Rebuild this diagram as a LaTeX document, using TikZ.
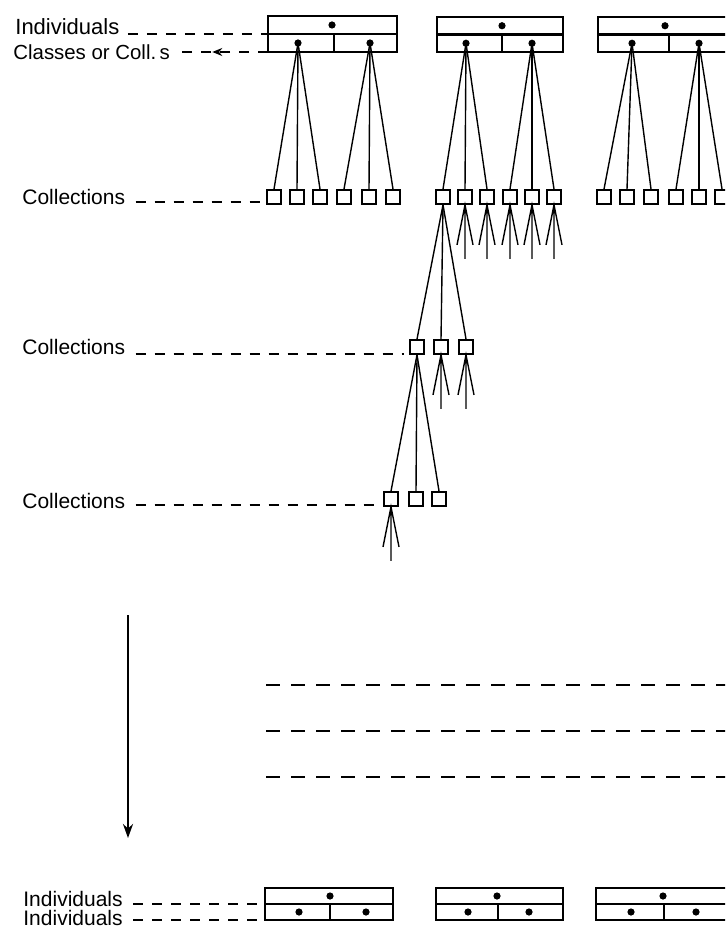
\documentclass[tikz,border=0pt]{standalone}
\usepackage{fontspec}
\setmainfont{Liberation Sans}
\usetikzlibrary{arrows.meta,decorations.markings}
\tikzset{
  frame/.style={line width=1.3pt},
  sq/.style={draw, line width=1.1pt, rectangle, minimum size=6.8pt, inner sep=0pt},
  fan/.style={line width=0.7pt},
  lead/.style={line width=0.9pt, dash pattern=on 5pt off 4.5pt},
  midlead/.style={line width=1pt, dash pattern=on 7pt off 5.5pt},
  dotf/.style={circle, fill, inner sep=0pt, minimum size=3.6pt},
  lbl/.style={anchor=base west, inner sep=0pt, font=\fontsize{10.5}{12}\selectfont},
}
\newcommand\tribox[9]{%
  \draw[frame] (#2,#4) rectangle (#3,#5);
  \coordinate (#1-m) at (#2,{(#4+#5)/2});
  \coordinate (#1-r) at (#3,{(#4+#5)/2});
  \coordinate (#1-bl) at (#2,#5);
  \draw[frame] (#1-m) -- (#1-r);
  \draw[frame] (#6,{(#4+#5)/2}) -- (#6,#5);
  \node[dotf] (#1-t) at (#7,{#4+0.25*(#5-#4)}) {};
  \node[dotf] (#1-a) at (#8,{#4+0.75*(#5-#4)}) {};
  \node[dotf] (#1-b) at (#9,{#4+0.75*(#5-#4)}) {};
}
\newcommand\minifan[1]{%
  \path (#1.south) ++(-8,40) coordinate (#1-fl)
        (#1.south) ++(0,54) coordinate (#1-fc)
        (#1.south) ++(8,40) coordinate (#1-fr);
  \draw[fan] (#1-fl) -- (#1.south) -- (#1-fr) (#1.south) -- (#1-fc);
}
\begin{document}
\begin{tikzpicture}[x=0.5pt,y=-0.5pt]
\clip (0,0) rectangle (725,929);

% top boxes
\tribox{T1}{268}{397}{16}{52}{334}{332}{298}{370}
\tribox{T2}{437}{563}{17}{52}{502}{502}{466}{532}
\tribox{T3}{598}{727}{17}{52}{669}{665}{632}{699}

% first row of collections
\foreach \n/\x in {a1/274,a2/297,a3/320,a4/344,a5/369,a6/393,
                   b1/443,b2/465,b3/487,b4/510,b5/532,b6/554,
                   c1/604,c2/627,c3/651,c4/676,c5/699,c6/722}
  \node[sq] (\n) at (\x,197) {};
% second row
\foreach \n/\x in {d1/417,d2/441,d3/466}
  \node[sq] (\n) at (\x,347) {};
% third row
\foreach \n/\x in {e1/391,e2/416,e3/439}
  \node[sq] (\n) at (\x,499) {};

% fans
\foreach \s in {a1,a2,a3} \draw[fan] (T1-a.center) -- (\s.north);
\foreach \s in {a4,a5,a6} \draw[fan] (T1-b.center) -- (\s.north);
\foreach \s in {b1,b2,b3} \draw[fan] (T2-a.center) -- (\s.north);
\foreach \s in {b4,b5,b6} \draw[fan] (T2-b.center) -- (\s.north);
\foreach \s in {c1,c2,c3} \draw[fan] (T3-a.center) -- (\s.north);
\foreach \s in {c4,c5,c6} \draw[fan] (T3-b.center) -- (\s.north);
\foreach \s in {d1,d2,d3} \draw[fan] (b1.south) -- (\s.north);
\foreach \s in {e1,e2,e3} \draw[fan] (d1.south) -- (\s.north);
\foreach \s in {b2,b3,b4,b5,b6,d2,d3,e1} {\minifan{\s}}

% labels and leaders (top)
\node[lbl, font=\fontsize{11}{13}\selectfont] (Li) at (15,35) {Individuals};
\draw[lead, shorten <=4pt] (Li.east |- T1-m) -- (T1-m);
\node[lbl, font=\fontsize{10.2}{12}\selectfont] (Lc) at (13,60) {Classes or Coll.\,s};
\draw[lead, shorten >=2pt,
  postaction={decorate, decoration={markings,
    mark=at position 0.57 with {\arrow{Stealth[length=5pt,width=4pt]}}}}]
  (T1-bl) -- (Lc.east |- T1-bl);

% collections labels
\node[lbl] (C1) at (22,205) {Collections};
\coordinate (C1e) at (265,202);
\draw[lead, shorten <=5pt] (C1.east |- C1e) -- (C1e);
\node[lbl] (C2) at (22,355) {Collections};
\coordinate (C2e) at (404,354);
\draw[lead, shorten <=5pt] (C2.east |- C2e) -- (C2e);
\node[lbl] (C3) at (22,508) {Collections};
\coordinate (C3e) at (381,505);
\draw[lead, shorten <=5pt] (C3.east |- C3e) -- (C3e);

% downward arrow
\coordinate (ar1) at (128,615);
\coordinate (ar2) at (128,838);
\draw[line width=1.4pt, -{Stealth[length=7pt,width=5pt]}] (ar1) -- (ar2);

% middle dashed lines
\foreach \k/\y in {1/685,2/731,3/777} {
  \coordinate (ms\k) at (266,\y);
  \coordinate (me\k) at (730,\y);
  \draw[midlead] (ms\k) -- (me\k);
}

% bottom boxes
\tribox{B1}{265}{393}{888}{920}{330}{330}{299}{366}
\tribox{B2}{436}{563}{888}{920}{498}{497}{468}{529}
\tribox{B3}{596}{727}{888}{920}{664}{663}{631}{696}

\node[lbl] (I1) at (23,906) {Individuals};
\draw[lead, shorten <=5pt] (I1.east |- B1-m) -- (B1-m);
\node[lbl] (I2) at (23,925) {Individuals};
\draw[lead, shorten <=5pt] (I2.east |- B1-bl) -- (B1-bl);
\end{tikzpicture}
\end{document}
